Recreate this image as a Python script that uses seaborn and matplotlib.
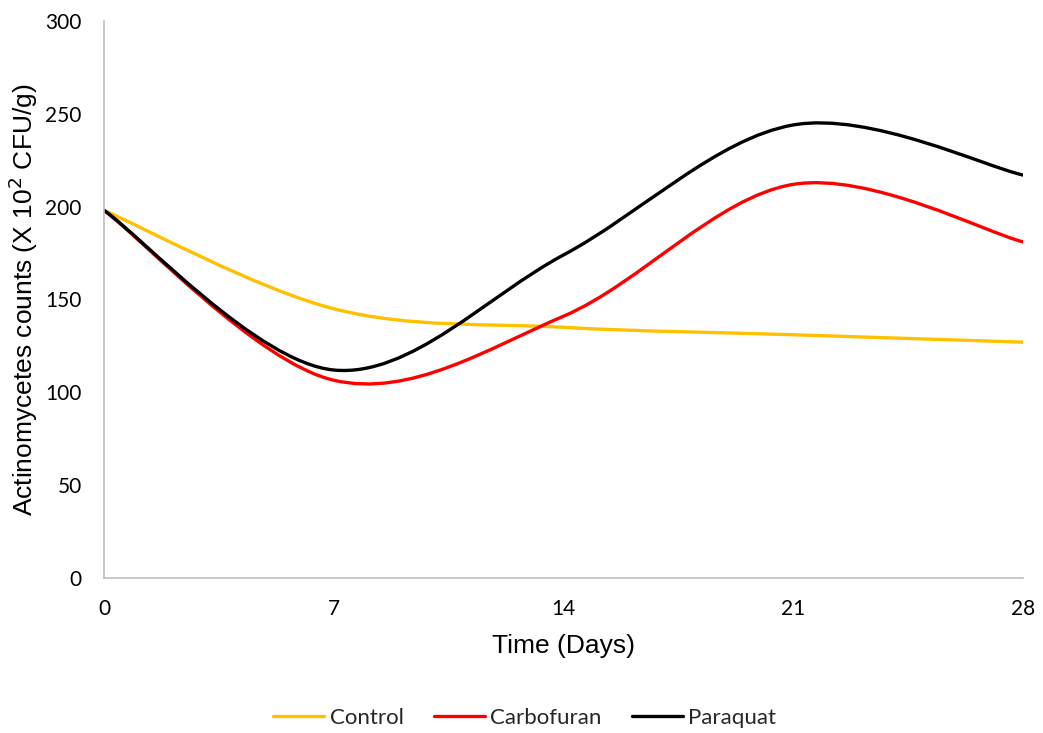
import numpy as np
import pandas as pd
import matplotlib
matplotlib.use('Agg')
import matplotlib.pyplot as plt
from matplotlib.path import Path
from matplotlib.patches import PathPatch
from matplotlib.lines import Line2D
import seaborn as sns

days = [0, 7, 14, 21, 28]
control = [198, 145, 135, 131, 127]
carbofuran = [198, 106.5, 141, 212, 181]
paraquat = [198, 112, 174, 244, 217]

names = ["Control", "Carbofuran", "Paraquat"]
colors = ["#FFC000", "#FF0000", "#000000"]

df = pd.DataFrame({
    "Day": days * 3,
    "Count": control + carbofuran + paraquat,
    "Treatment": sum([[n] * len(days) for n in names], []),
})

sns.set_style("white")
plt.rcParams['font.family'] = ['Liberation Sans', 'DejaVu Sans']

fig = plt.figure(figsize=(10.43, 7.33), dpi=100)
ax = fig.add_axes([0.0997, 0.2115, 0.8813, 0.7599])

# points only set up the axes; the smoothed curves are drawn as bezier paths
sns.lineplot(data=df, x="Day", y="Count", hue="Treatment", palette=colors,
             linewidth=0, legend=False, ax=ax)


def smooth_path(x, y):
    # excel-style smoothing: cubic bezier with catmull-rom control points
    x = np.asarray(x, float)
    y = np.asarray(y, float)
    verts = [(x[0], y[0])]
    codes = [Path.MOVETO]
    n = len(x)
    for i in range(n - 1):
        x0, y0 = (x[i - 1], y[i - 1]) if i > 0 else (x[i], y[i])
        x3, y3 = (x[i + 2], y[i + 2]) if i + 2 < n else (x[i + 1], y[i + 1])
        c1 = (x[i] + (x[i + 1] - x0) / 6, y[i] + (y[i + 1] - y0) / 6)
        c2 = (x[i + 1] - (x3 - x[i]) / 6, y[i + 1] - (y3 - y[i]) / 6)
        verts += [c1, c2, (x[i + 1], y[i + 1])]
        codes += [Path.CURVE4] * 3
    return Path(verts, codes)


for vals, c in zip([control, carbofuran, paraquat], colors):
    ax.add_patch(PathPatch(smooth_path(days, vals), facecolor='none',
                           edgecolor=c, linewidth=2.4, capstyle='round'))

ax.set_xlim(0, 28)
ax.set_ylim(0, 300)
ax.set_xticks(days)
ax.set_yticks(range(0, 301, 50))
ax.tick_params(length=0, labelcolor='black')
ax.tick_params(axis='x', pad=15)
ax.tick_params(axis='y', pad=16)
for lab in ax.get_xticklabels() + ax.get_yticklabels():
    lab.set_fontfamily('Lato')
    lab.set_fontsize(15)
for s in ["top", "right"]:
    ax.spines[s].set_visible(False)
for s in ["left", "bottom"]:
    ax.spines[s].set_color("#BFBFBF")
    ax.spines[s].set_linewidth(1.2)

ax.set_xlabel("Time (Days)", fontsize=19, labelpad=11, color='black')
ax.set_ylabel("Actinomycetes counts (X 10$^2$ CFU/g)", fontsize=19, labelpad=4,
              color='black')

handles = [Line2D([], [], color=c, lw=2.4, solid_capstyle='round') for c in colors]
fig.legend(handles, names, loc='center', bbox_to_anchor=(0.503, 0.021), ncol=3,
           frameon=False, prop={'family': 'Lato', 'size': 16}, handlelength=2.3,
           handletextpad=0.25, columnspacing=1.35)

fig.savefig("out.png", dpi=100)
